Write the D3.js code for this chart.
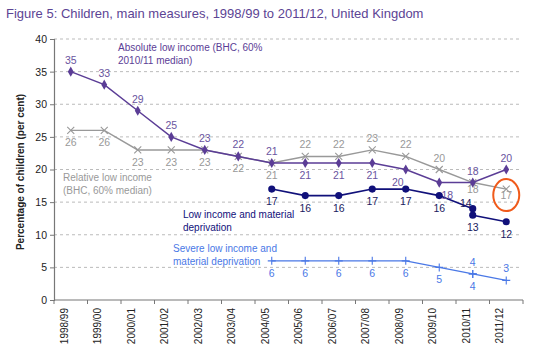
<!DOCTYPE html>
<html>
<head>
<meta charset="utf-8">
<script src="https://cdn.jsdelivr.net/npm/d3@7"></script>
<style>
body { margin: 0; background: #fff; font-family: "Liberation Sans", Arial, sans-serif; }
</style>
</head>
<body>
<svg id="chart"></svg>
<script>
var width = 540;
var height = 354;

// data
var years = ["1998/99","1999/00","2000/01","2001/02","2002/03","2003/04","2004/05",
  "2005/06","2006/07","2007/08","2008/09","2009/10","2010/11","2011/12"];
var absolute = [35,33,29,25,23,22,21,21,21,21,20,18,18,20];
var relative = [26,26,23,23,23,22,21,22,22,23,22,20,18,17];
var matDepOld = [null,null,null,null,null,null,17,16,16,17,17,16,14,null];
var matDepNew = [null,null,null,null,null,null,null,null,null,null,null,null,13,12];
var severeOld = [null,null,null,null,null,null,6,6,6,6,6,5,4,null];
var severeNew = [null,null,null,null,null,null,null,null,null,null,null,null,4,3];
var yTicks = [0,5,10,15,20,25,30,35,40];

// where each value label sits: a = above, b = below, l/r = nudged sideways, s = tight
var absPos = ["a","a","a","a","a","a","a","b","b","b","bl","br","a","a"];
var relPos = ["b","b","b","b","b","b","b","a","a","a","a","a","bs","bs"];
var matPos = ["b","b","b","b","b","b","b","b","b","b","b","b","asl","b"];

var svg = d3.select("#chart").attr("width", width).attr("height", height);

svg.append("text").attr("x", 6).attr("y", 18)
  .style("font-size", "13px").style("fill", "#5c4494")
  .text("Figure 5: Children, main measures, 1998/99 to 2011/12, United Kingdom");

var x = d3.scaleBand().domain(years).range([54, 523]);
var y = d3.scaleLinear().domain([0, 40]).range([300, 39]);
var cx = function(i) { return x(years[i]) + x.bandwidth() / 2; };

// grid
svg.append("g").selectAll("line").data(yTicks.slice(1)).enter().append("line")
  .attr("x1", 54).attr("x2", 521)
  .attr("y1", function(d){ return y(d); }).attr("y2", function(d){ return y(d); })
  .style("stroke", "#aaa").style("stroke-dasharray", "3,3").style("stroke-width", 0.8);

var yAxis = svg.append("g").attr("transform", "translate(54,0)")
  .call(d3.axisLeft(y).tickValues(yTicks).tickSize(4).tickPadding(3));
var xAxis = svg.append("g").attr("transform", "translate(0,300)")
  .call(d3.axisBottom(x).tickSize(0).tickPadding(6));
xAxis.selectAll("text")
  .attr("text-anchor", "end").attr("dx", "-0.6em").attr("dy", "-0.3em").attr("x", -2).attr("y", 0)
  .attr("transform", "rotate(-90)");
// boundary ticks
svg.append("g").selectAll("line").data(years.concat(["end"])).enter().append("line")
  .attr("x1", function(d, i){ return 54 + i * x.step(); })
  .attr("x2", function(d, i){ return 54 + i * x.step(); })
  .attr("y1", 300).attr("y2", 304).style("stroke", "#777");
[yAxis, xAxis].forEach(function(a) {
  a.selectAll(".domain").style("stroke", "#777").style("stroke-width", 1.2);
  a.selectAll(".tick line").style("stroke", "#777");
  a.selectAll("text").style("font-size", "10px").style("fill", "#222")
    .style("font-family", "Liberation Sans, Arial, sans-serif");
});
yAxis.selectAll("text").style("font-size", "10.5px");
xAxis.select(".domain").attr("d", "M54,0H523");

svg.append("text").attr("transform", "translate(24,172) rotate(-90)")
  .attr("text-anchor", "middle").style("font-size", "10px").style("font-weight", "bold")
  .style("fill", "#222").text("Percentage of children (per cent)");

var line = d3.line().defined(function(d){ return d != null; })
  .x(function(d, i){ return cx(i); }).y(function(d){ return y(d); });

function drawSeries(vals, color, sym, size, lw) {
  svg.append("path").datum(vals).attr("d", line)
    .style("fill", "none").style("stroke", color).style("stroke-width", lw);
  var g = svg.append("g");
  vals.forEach(function(v, i) {
    if (v == null) return;
    var tx = "translate(" + cx(i) + "," + y(v) + ")";
    if (sym === "x" || sym === "+") {
      var r = size;
      var p = sym === "x" ? "M" + -r + "," + -r + "L" + r + "," + r + "M" + -r + "," + r + "L" + r + "," + -r
                          : "M" + -r + ",0H" + r + "M0," + -r + "V" + r;
      g.append("path").attr("transform", tx).attr("d", p)
        .style("stroke", color).style("stroke-width", 1.1).style("fill", "none");
    } else {
      g.append("path").attr("transform", tx)
        .attr("d", d3.symbol().type(sym).size(size)())
        .style("fill", color);
    }
  });
}

function drawLabels(vals, pos, color) {
  vals.forEach(function(v, i) {
    if (v == null) return;
    var p = typeof pos === "string" ? pos : pos[i];
    var above = p.charAt(0) === "a";
    var tight = p.indexOf("s") > 0;
    var dx = 0, dy = above ? (tight ? -2 : -8) : (tight ? 10 : 16);
    if (p.indexOf("l") > 0) dx = tight ? -7 : -8;
    if (p.indexOf("r") > 0) dx = 8;
    svg.append("text").attr("x", cx(i) + dx).attr("y", y(v) + dy)
      .attr("text-anchor", "middle").style("font-size", "10.5px")
      .style("fill", color).text(v);
  });
}

var cAbs = "#5b3d96", cRel = "#999999", cMat = "#10107a", cSev = "#4a78e6";

drawSeries(relative, cRel, "x", 3.5, 1.4);
drawSeries(absolute, cAbs, d3.symbolDiamond, 30, 1.5);
drawSeries(matDepOld, cMat, d3.symbolCircle, 40, 1.6);
drawSeries(matDepNew, cMat, d3.symbolCircle, 40, 1.6);
drawSeries(severeOld, cSev, "+", 4, 1.2);
drawSeries(severeNew, cSev, "+", 4, 1.2);

drawLabels(absolute, absPos, "#6a55a0");
drawLabels(relative, relPos, "#999");
drawLabels(matDepOld, matPos, "#1a1a5e");
drawLabels(matDepNew, "b", "#1a1a5e");
drawLabels(severeOld, "b", cSev);
drawLabels(severeNew, "a", cSev);

function note(lines, px, py, color) {
  var t = svg.append("text").attr("x", px).attr("y", py)
    .style("font-size", "10px").style("fill", color);
  lines.forEach(function(s, k) {
    t.append("tspan").attr("x", px).attr("dy", k ? 13 : 0).text(s);
  });
}
note(["Absolute low income (BHC, 60%", "2010/11 median)"], 118, 51, cAbs);
note(["Relative low income", "(BHC, 60% median)"], 63, 181, "#999");
note(["Low income and material", "deprivation"], 183, 218, cMat);
note(["Severe low income and", "material deprivation"], 173, 252, cSev);

// highlight ring
svg.append("ellipse").attr("cx", cx(13)).attr("cy", y(relative[13]) + 6)
  .attr("rx", 13).attr("ry", 16)
  .style("fill", "none").style("stroke", "#f05a1a").style("stroke-width", 2);
</script>
</body>
</html>
